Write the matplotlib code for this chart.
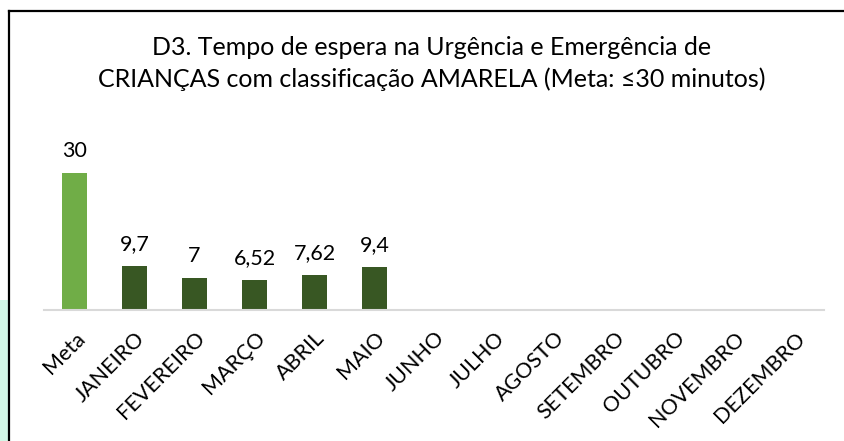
import matplotlib.pyplot as plt
from matplotlib.lines import Line2D
from matplotlib.patches import Rectangle

categorias = ['Meta', 'JANEIRO', 'FEVEREIRO', 'MARÇO', 'ABRIL', 'MAIO', 'JUNHO',
              'JULHO', 'AGOSTO', 'SETEMBRO', 'OUTUBRO', 'NOVEMBRO', 'DEZEMBRO']
valores = [30, 9.7, 7, 6.52, 7.62, 9.4, None, None, None, None, None, None, None]
rotulos = ['30', '9,7', '7', '6,52', '7,62', '9,4']

cor_meta = '#70AD47'
cor_mes = '#385723'

plt.rcParams['font.family'] = ['Lato', 'DejaVu Sans']

W, H = 845, 441
fig = plt.figure(figsize=(W / 100, H / 100), dpi=100)
ax = fig.add_axes([44.5 / W, 1 - 310 / H, 780 / W, 182.8 / H])

x = list(range(len(categorias)))
alturas = [v if v is not None else 0 for v in valores]
cores = [cor_meta] + [cor_mes] * (len(categorias) - 1)
ax.bar(x, alturas, width=0.42, color=cores)

for i, txt in enumerate(rotulos):
    ax.annotate(txt, (x[i], alturas[i]), xytext=(0, 11.5), textcoords='offset points',
                ha='center', va='baseline', fontsize=15.5, color='black')

ax.set_xlim(-0.5, len(categorias) - 0.5)
ax.set_ylim(0, 40)
ax.set_yticks([])
ax.set_xticks(x)
ax.set_xticklabels(categorias, rotation=45, ha='right', va='top',
                   rotation_mode='anchor', fontsize=15.5)
ax.tick_params(axis='x', length=0, pad=13)
for s in ['top', 'right', 'left']:
    ax.spines[s].set_visible(False)
ax.spines['bottom'].set_color('#D9D9D9')
ax.spines['bottom'].set_linewidth(1.5)

fig.text(432 / W, 1 - 36 / H,
         'D3. Tempo de espera na Urgência e Emergência de\n'
         'CRIANÇAS com classificação AMARELA (Meta: ≤30 minutos)',
         ha='center', va='top', fontsize=18, linespacing=1.45)

# moldura e fundo à esquerda
fig.add_artist(Rectangle((0, 0), 8 / W, 1 - 300 / H, transform=fig.transFigure,
                         color='#D2F7E6', lw=0))
fig.add_artist(Line2D([9.5 / W, 9.5 / W], [0, 1 - 11 / H], transform=fig.transFigure,
                      color='black', lw=1.6))
fig.add_artist(Line2D([9.5 / W, 1], [1 - 11 / H, 1 - 11 / H], transform=fig.transFigure,
                      color='black', lw=1.6))

fig.savefig('out.png', dpi=100)
